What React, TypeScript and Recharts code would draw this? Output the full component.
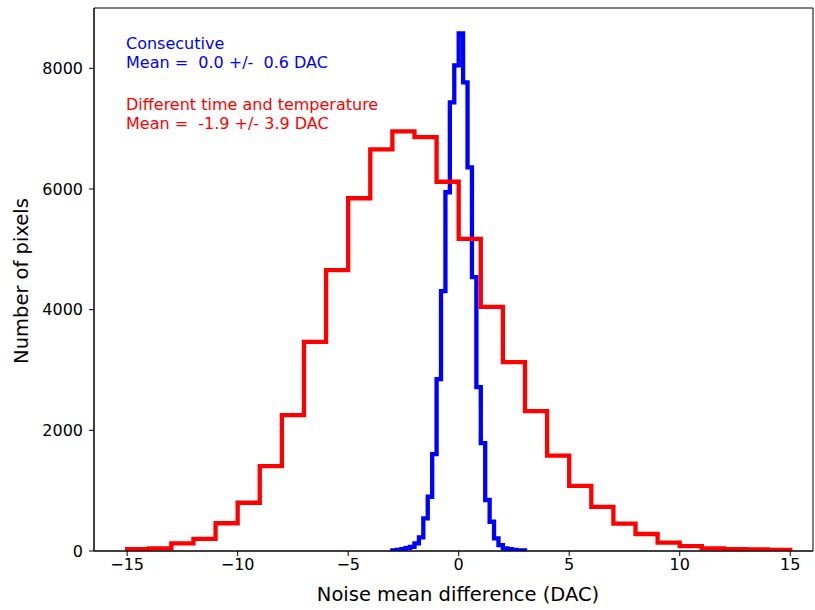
import React from 'react';
import { LineChart, Line, XAxis, YAxis, ReferenceArea } from 'recharts';

// histogram bins: different time and temperature (red), 1 DAC wide
const RED_START = -15;
const RED_WIDTH = 1;
const redCounts = [
  30, 45, 128, 200, 460, 800, 1408, 2253, 3467, 4654,
  5847, 6658, 6956, 6860, 6120, 5175, 4045, 3130, 2319, 1580,
  1080, 732, 455, 282, 140, 82, 45, 30, 25, 20,
];

// histogram bins: consecutive (blue), 0.2 DAC wide
const BLUE_START = -3;
const BLUE_WIDTH = 0.2;
const blueCounts = [
  10, 20, 30, 50, 70, 128, 227, 542, 899, 1607,
  2849, 4306, 5946, 7437, 8050, 8580, 7768, 6360, 4538, 2716,
  1789, 845, 485, 210, 99, 45, 30, 20, 12, 8,
];

const xTicks = [-15, -10, -5, 0, 5, 10, 15];
const yTicks = [0, 2000, 4000, 6000, 8000];

const X_DOMAIN: [number, number] = [-16.5, 16.03];
const Y_DOMAIN: [number, number] = [0, 9000];

const FONT = '"DejaVu Sans", sans-serif';

// matplotlib-style step outline: up at first edge, across each bin, down at last edge
function stepPoints(start: number, width: number, counts: number[]) {
  const edge = (i: number) => Math.round((start + i * width) * 1e6) / 1e6;
  const pts = [{ x: edge(0), y: 0 }];
  counts.forEach((c, i) => pts.push({ x: edge(i), y: c }));
  pts.push({ x: edge(counts.length), y: 0 });
  return pts;
}

const blueSteps = stepPoints(BLUE_START, BLUE_WIDTH, blueCounts);
const redSteps = stepPoints(RED_START, RED_WIDTH, redCounts);

const minus = (v: number) => (v < 0 ? '\u2212' + Math.abs(v) : String(v));

export default function App() {
  const tickStyle = { fontFamily: FONT, fontSize: 16, fill: '#000' };
  const pre = { whiteSpace: 'pre' as const };
  return (
    <div style={{ position: 'absolute', left: 0, top: 0, width: 815, height: 610, background: '#fff' }}>
      <LineChart width={815} height={610} margin={{ top: 8, right: 2, bottom: 0, left: 0 }}>
        <XAxis
          type="number"
          dataKey="x"
          domain={X_DOMAIN}
          ticks={xTicks}
          allowDataOverflow
          height={59}
          tickSize={5}
          tickMargin={3}
          tickFormatter={minus}
          tick={tickStyle}
          stroke="#000"
        />
        <YAxis
          type="number"
          domain={Y_DOMAIN}
          ticks={yTicks}
          allowDataOverflow
          width={94}
          tickSize={5}
          tickMargin={6}
          tick={tickStyle}
          stroke="#000"
        />
        <ReferenceArea
          x1={X_DOMAIN[0]}
          x2={X_DOMAIN[1]}
          y1={Y_DOMAIN[0]}
          y2={Y_DOMAIN[1]}
          fill="none"
          fillOpacity={0}
          stroke="#000"
          strokeWidth={1}
          ifOverflow="visible"
        />
        <Line
          data={blueSteps}
          dataKey="y"
          type="stepAfter"
          stroke="#0000ff"
          strokeWidth={4.3}
          strokeLinejoin="miter"
          dot={false}
          activeDot={false}
          isAnimationActive={false}
        />
        <Line
          data={redSteps}
          dataKey="y"
          type="stepAfter"
          stroke="#ff0000"
          strokeWidth={4.3}
          strokeLinejoin="miter"
          dot={false}
          activeDot={false}
          isAnimationActive={false}
        />
      </LineChart>
      <svg
        width={815}
        height={610}
        style={{ position: 'absolute', left: 0, top: 0, pointerEvents: 'none' }}
      >
        <g fontFamily={FONT} fontSize={16}>
          <text x={126} y={49} fill="#0000ff" xmlSpace="preserve" style={pre}>Consecutive</text>
          <text x={126} y={68} fill="#0000ff" xmlSpace="preserve" style={pre}>{'Mean =  0.0 +/-  0.6 DAC'}</text>
          <text x={126} y={110} fill="#ff0000" xmlSpace="preserve" style={pre}>Different time and temperature</text>
          <text x={126} y={129} fill="#ff0000" xmlSpace="preserve" style={pre}>{'Mean =  -1.9 +/- 3.9 DAC'}</text>
        </g>
        <text x={458} y={601} textAnchor="middle" fontFamily={FONT} fontSize={19.5} fill="#000">
          Noise mean difference (DAC)
        </text>
        <text
          transform="translate(28 281) rotate(-90)"
          textAnchor="middle"
          fontFamily={FONT}
          fontSize={19.5}
          fill="#000"
        >
          Number of pixels
        </text>
      </svg>
    </div>
  );
}
